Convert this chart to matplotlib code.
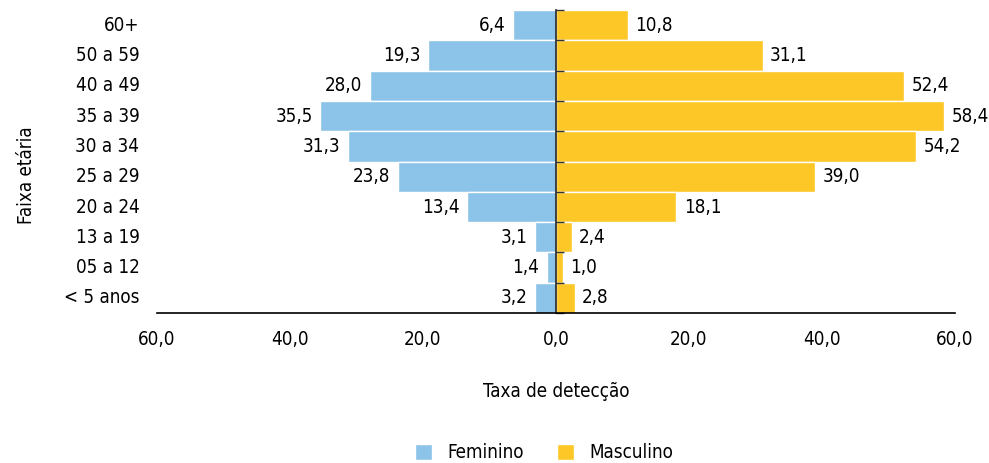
import numpy as np
import matplotlib
matplotlib.use("Agg")
import matplotlib.pyplot as plt
import matplotlib.transforms as mtransforms

plt.rcParams['font.family'] = ['DejaVu Sans']
plt.rcParams['font.stretch'] = 'condensed'

# age groups, top to bottom
faixas = ['60+', '50 a 59', '40 a 49', '35 a 39', '30 a 34', '25 a 29',
          '20 a 24', '13 a 19', '05 a 12', '< 5 anos']
feminino = [6.4, 19.3, 28.0, 35.5, 31.3, 23.8, 13.4, 3.1, 1.4, 3.2]
masculino = [10.8, 31.1, 52.4, 58.4, 54.2, 39.0, 18.1, 2.4, 1.0, 2.8]
xticks = [-60, -40, -20, 0, 20, 40, 60]

c_fem = '#8cc3e8'
c_mas = '#fdc827'
fs = 13.5

fig = plt.figure(figsize=(9.89, 4.63), dpi=100)
ax = fig.add_axes([0.1587, 0.324, 0.8069, 0.654])

y = np.arange(len(faixas))[::-1]
ax.barh(y, -np.array(feminino), height=1.0, color=c_fem, edgecolor='white',
        linewidth=1.0, label='Feminino')
ax.barh(y, masculino, height=1.0, color=c_mas, edgecolor='white',
        linewidth=1.0, label='Masculino')

def fmt(v):
    return ('%.1f' % v).replace('.', ',')

for yi, f, m in zip(y, feminino, masculino):
    ax.text(-f - 1.1, yi, fmt(f), ha='right', va='center', fontsize=fs)
    ax.text(m + 1.1, yi, fmt(m), ha='left', va='center', fontsize=fs)

ax.set_xlim(-60, 60)
ax.set_ylim(-0.5, len(faixas) - 0.5)
ax.set_xticks(xticks)
ax.set_xticklabels([fmt(abs(v)) for v in xticks], fontsize=fs)
ax.tick_params(axis='x', length=0, pad=12)

# y axis at zero with ticks on the category boundaries
ax.spines['left'].set_position(('data', 0))
ax.spines['left'].set_color('#222222')
ax.spines['left'].set_linewidth(1.2)
ax.spines['bottom'].set_linewidth(1.2)
ax.spines['top'].set_visible(False)
ax.spines['right'].set_visible(False)
ax.set_yticks(np.arange(-0.5, len(faixas), 1.0))
ax.set_yticklabels([])
ax.tick_params(axis='y', direction='in', length=6, width=1.0, color='#333333')

trans = mtransforms.blended_transform_factory(ax.transAxes, ax.transData)
for yi, lab in zip(y, faixas):
    ax.text(-0.022, yi, lab, ha='right', va='center', fontsize=fs,
            transform=trans)

ax.set_xlabel('Taxa de detecção', fontsize=fs, labelpad=24)
fig.text(0.027, 0.622, 'Faixa etária', rotation=90, ha='center',
         va='center', fontsize=fs)

fig.legend(loc='center', bbox_to_anchor=(0.55, 0.022), ncol=2,
           frameon=False, fontsize=fs, handlelength=0.9, handleheight=0.9,
           columnspacing=1.8, handletextpad=0.8)

fig.savefig('out.png', dpi=100)
